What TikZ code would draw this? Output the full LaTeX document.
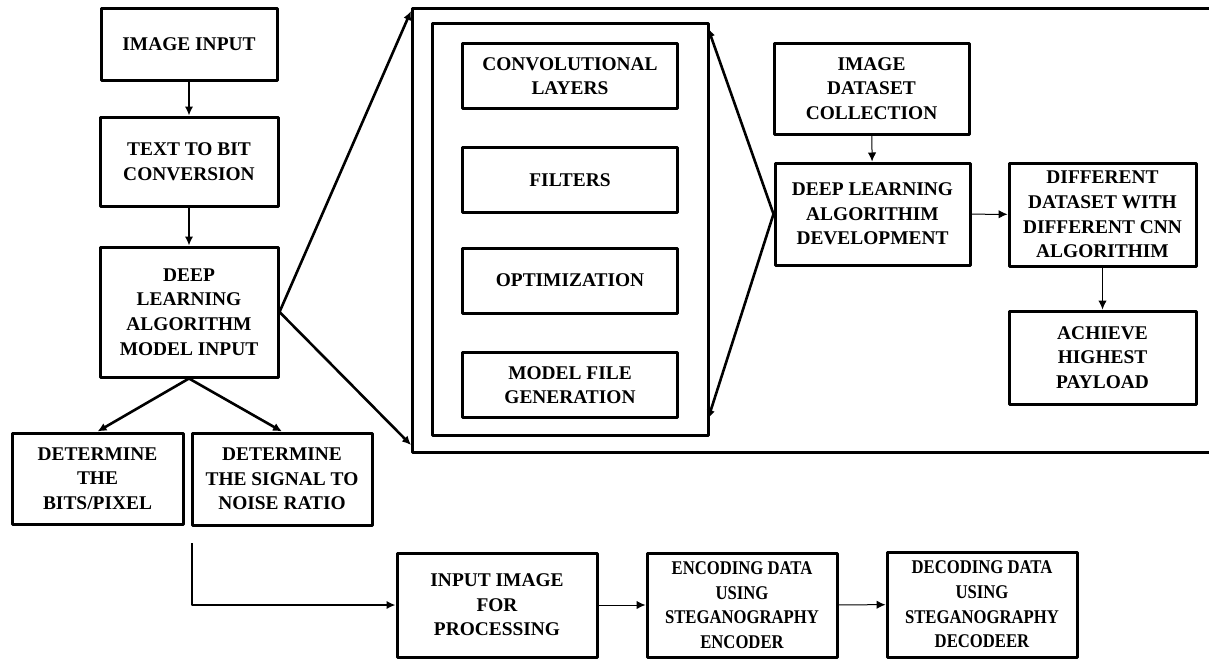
\documentclass[tikz,border=0pt]{standalone}
\usepackage{fontspec}
\usetikzlibrary{arrows.meta}
\setmainfont{Liberation Serif}
\newfontfamily\narrowfont[FakeStretch=0.86]{Liberation Serif}
\begin{document}
\begin{tikzpicture}[x=0.5pt,y=-0.5pt,>={Latex[length=4.5pt,width=4.2pt]},line join=round,
	font=\bfseries\fontsize{9.7}{12.3}\selectfont,
	blk/.style={draw,line width=1.5pt,align=center,inner sep=1pt},
	fat/.style={->,line width=1.3pt},
	slim/.style={->,line width=0.5pt}]
	\useasboundingbox (0,0) rectangle (1209,659);
	% left column
	\node[blk,minimum width=88pt,minimum height=36pt] (imgin) at (189,44) {IMAGE INPUT};
	\node[blk,minimum width=89pt,minimum height=44.5pt] (tobit) at (189,161.5) {TEXT TO BIT\\CONVERSION};
	\node[blk,minimum width=89pt,minimum height=65pt] (dlin) at (189,312) {DEEP\\LEARNING\\ALGORITHM\\MODEL INPUT};
	\node[blk,minimum width=85.5pt,minimum height=45.5pt] (bits) at (97.5,478.5) {DETERMINE\\THE\\BITS/PIXEL};
	\node[blk,minimum width=90pt,minimum height=46pt] (snr) at (282,479) {DETERMINE\\THE SIGNAL TO\\NOISE RATIO};
	\draw[fat] (imgin) -- (tobit);
	\draw[fat] (tobit) -- (dlin);
	\draw[fat] (dlin.south) -- (bits.north);
	\draw[fat] (dlin.south) -- (snr.north);
	% outer frame
	\coordinate (frTL) at (411,11);
	\coordinate (frBL) at (411,445);
	\draw[line width=1.5pt] (1209,8) -- (412,8) -- (412,452) -- (1209,452);
	\draw[fat] (dlin.east) -- (frTL);
	\draw[fat] (dlin.east) -- (frBL);
	% cnn block
	\node[blk,minimum width=138pt,minimum height=206pt] (cnn) at (570,229) {};
	\foreach \n/\y/\t in {conv/76/{CONVOLUTIONAL\\LAYERS},filt/180/{FILTERS},optim/280.5/{OPTIMIZATION},mfile/385/{MODEL FILE\\GENERATION}}
	\node[blk,minimum width=107.5pt,minimum height=32.5pt] (\n) at (570,\y) {\t};
	% right part
	\node[blk,minimum width=97.5pt,minimum height=45.5pt] (dset) at (871.5,88.5) {IMAGE\\DATASET\\COLLECTION};
	\node[blk,minimum width=97.5pt,minimum height=51pt] (dev) at (872.5,214) {DEEP LEARNING\\ALGORITHIM\\DEVELOPMENT};
	\node[blk,minimum width=93.5pt,minimum height=51.5pt,inner sep=0pt] (diff) at (1102.5,214.5) {DIFFERENT\\DATASET WITH\\DIFFERENT CNN\\ALGORITHIM};
	\node[blk,minimum width=93.5pt,minimum height=46.5pt] (best) at (1102.5,357.5) {ACHIEVE\\HIGHEST\\PAYLOAD};
	\coordinate (cnnT) at (708,28);
	\coordinate (cnnB) at (708,419);
	\draw[fat] (dev.west) -- (cnnT);
	\draw[fat] (dev.west) -- (cnnB);
	\draw[slim] (dset) -- (dev);
	\draw[slim] (dev) -- (diff);
	\draw[slim] (diff) -- (best);
	% bottom row
	\node[blk,minimum width=100pt,minimum height=52pt] (inimg) at (497,605) {INPUT IMAGE\\FOR\\PROCESSING};
	\node[blk,minimum width=95pt,minimum height=52pt,font=\narrowfont\bfseries\fontsize{9.7}{12.3}\selectfont] (enc) at (742,605) {ENCODING DATA\\USING\\STEGANOGRAPHY\\ENCODER};
	\node[blk,minimum width=95pt,minimum height=52.5pt,font=\narrowfont\bfseries\fontsize{9.7}{12.3}\selectfont] (dec) at (982,604.5) {DECODING DATA\\USING\\STEGANOGRAPHY\\DECODEER};
	\coordinate (bend) at (192,543);
	\draw[fat] (bend) |- (inimg.west);
	\draw[slim] (inimg) -- (enc);
	\draw[slim] (enc) -- (dec);
\end{tikzpicture}
\end{document}
